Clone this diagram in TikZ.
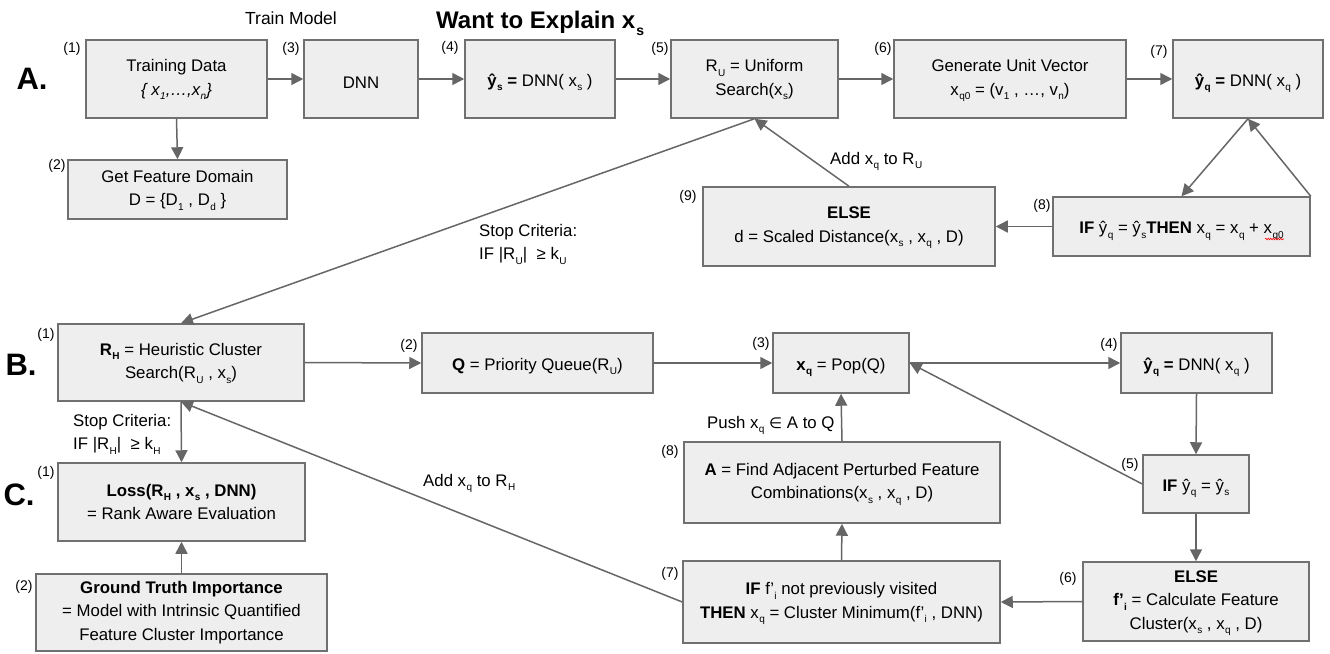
\documentclass[tikz,border=0pt]{standalone}
\usepackage{fontspec}
\setmainfont{Liberation Sans}
\newfontfamily\djv{DejaVu Sans}
\usetikzlibrary{arrows.meta,decorations.pathmorphing}
\definecolor{lgray}{HTML}{666666}
\definecolor{bgray}{HTML}{707070}
\definecolor{bfill}{HTML}{EEEEEE}
\newcommand{\sbx}[1]{\kern0.4pt\raisebox{-4.5pt}[0pt][0pt]{\fontsize{10}{10}\selectfont #1}}
\newcommand{\txtsize}{\fontsize{16.8}{23.5}\selectfont}
\begin{document}
\begin{tikzpicture}[x=1pt,y=-1pt,
  box/.style={draw=bgray, fill=bfill, line width=1.5pt, inner sep=0pt, align=center, font=\txtsize,
    execute at begin node={\rule{0pt}{18pt}}},
  num/.style={font=\fontsize{14}{14}\selectfont, inner sep=0pt},
  lbl/.style={font=\txtsize, inner sep=0pt, align=left, anchor=north west},
  big/.style={font=\fontsize{31}{31}\selectfont\bfseries, inner sep=0pt},
  arr/.style={draw=lgray, line width=1.5pt, -{Triangle[length=12pt,width=12pt]}},
  ln/.style={draw=lgray, line width=1.5pt}
]
\useasboundingbox (0,0) rectangle (1330,653);

% ---- titles ----
\node[font=\fontsize{17.5}{17.5}\selectfont, inner sep=0pt, anchor=base] (trainlbl) at (291,24) {Train Model};
\node[font=\fontsize{24}{24}\selectfont\bfseries, inner sep=0pt, anchor=base west] (explainlbl) at (436,28)
  {Want to Explain x\kern1pt\raisebox{-7pt}{\fontsize{14}{14}\selectfont s}};

\node[big] (LA) at (32,79) {A.};
\node[big] (LB) at (21,365) {B.};
\node[big] (LC) at (19,495) {C.};

% ---- row A ----
\node[box, minimum width=181pt, minimum height=78pt] (A1) at (176.5,79)
  {Training Data\\ \textit{\{ x\sbx{1},…,x\sbx{n}\}}};
\node[box, minimum width=114pt, minimum height=78pt] (A3) at (361,79) {DNN};
\node[box, minimum width=150pt, minimum height=78pt] (A4) at (540,79)
  {\textbf{ŷ\sbx{s} =} DNN( x\sbx{s} )};
\node[box, minimum width=167pt, minimum height=78pt] (A5) at (754.5,79)
  {R\sbx{U} = Uniform\\ Search(x\sbx{s})};
\node[box, minimum width=232pt, minimum height=78pt] (A6) at (1010,79)
  {Generate Unit Vector\\ x\sbx{q0} = (v\sbx{1} , …, v\sbx{n})};
\node[box, minimum width=150pt, minimum height=78pt] (A7) at (1248,79)
  {\textbf{ŷ\sbx{q} =} DNN( x\sbx{q} )};
\node[box, minimum width=219pt, minimum height=59pt] (A2) at (177.5,189.5)
  {Get Feature Domain\\ D = \{D\sbx{1} , D\sbx{d} \}};
\node[box, minimum width=257pt, minimum height=59pt] (A8) at (1181.5,226.5)
  {\textbf{IF} ŷ\sbx{q} = ŷ\sbx{s}\textbf{THEN} x\sbx{q} = x\sbx{q} + x\sbx{q0}};
\node[box, minimum width=292pt, minimum height=79pt] (A9) at (849,226.5)
  {\textbf{ELSE}\\ d = Scaled Distance(x\sbx{s} , x\sbx{q} , D)};

\node[num] (nA1) at (72,49) {(1)};
\node[num] (nA2) at (57,166) {(2)};
\node[num] (nA3) at (291,49) {(3)};
\node[num] (nA4) at (450,48) {(4)};
\node[num] (nA5) at (660,49) {(5)};
\node[num] (nA6) at (883,49) {(6)};
\node[num] (nA7) at (1159,52) {(7)};
\node[num] (nA8) at (1042,206) {(8)};
\node[num] (nA9) at (688,197) {(9)};

\draw[arr] (A1.east) -- (A3.west);
\draw[arr] (A1.south) -- (A2.north);
\draw[arr] (A3.east) -- (A4.west);
\draw[arr] (A4.east) -- (A5.west);
\draw[arr] (A5.east) -- (A6.west);
\draw[arr] (A6.east) -- (A7.west);
\draw[arr] (A7.south) -- (A8.north);
\draw[arr] (A8.north east) -- (A7.south);
\draw[arr] (A8.west) -- (A9.east);
\draw[arr] (A9.north) -- (A5.south);

\draw[red, line width=0.6pt, decorate, decoration={snake, amplitude=0.8pt, segment length=2.5pt}] (1265,239) -- (1284,239);

\node[lbl] (addU) at (830,152) {Add x\sbx{q} to R\sbx{U}};
\node[lbl] (stopU) at (479,224) {Stop Criteria:\\ IF |R\sbx{U}|\ \ ≥ k\sbx{U}};

% ---- row B ----
\node[box, minimum width=246pt, minimum height=77pt] (B1) at (181,362.5)
  {\textbf{R\sbx{H}} = Heuristic Cluster\\ Search(R\sbx{U} , x\sbx{s})};
\node[box, minimum width=231pt, minimum height=60pt] (B2) at (537.5,363)
  {\textbf{Q} = Priority Queue(R\sbx{U})};
\node[box, minimum width=136pt, minimum height=60pt] (B3) at (841,363)
  {\textbf{x\sbx{q}} = Pop(Q)};
\node[box, minimum width=151pt, minimum height=60pt] (B4) at (1196.5,363)
  {\textbf{ŷ\sbx{q} =} DNN( x\sbx{q} )};
\node[box, minimum width=106pt, minimum height=58pt] (B5) at (1196,484)
  {\textbf{IF} ŷ\sbx{q} = ŷ\sbx{s}};
\node[box, minimum width=226pt, minimum height=79pt] (B6) at (1196,601.5)
  {\textbf{ELSE}\\ \textbf{f’\sbx{i}} = Calculate Feature\\ Cluster(x\sbx{s} , x\sbx{q} , D)};
\node[box, minimum width=317pt, minimum height=82pt] (B7) at (841.5,602)
  {\textbf{IF} f’\sbx{i} not previously visited\\ \textbf{THEN} x\sbx{q} = Cluster Minimum(f’\sbx{i} , DNN)};
\node[box, minimum width=316pt, minimum height=81pt] (B8) at (842,482.5)
  {\textbf{A} = Find Adjacent Perturbed Feature\\ Combinations(x\sbx{s} , x\sbx{q} , D)};

\node[num] (nB1) at (46,335) {(1)};
\node[num] (nB2) at (409,346) {(2)};
\node[num] (nB3) at (761,344) {(3)};
\node[num] (nB4) at (1109,345) {(4)};
\node[num] (nB5) at (1130,465) {(5)};
\node[num] (nB6) at (1068,579) {(6)};
\node[num] (nB7) at (670,574) {(7)};
\node[num] (nB8) at (670,452) {(8)};

\draw[arr] (A5.south) -- (B1.north);
\draw[arr] (B1.east) -- (B2.west);
\draw[arr] (B2.east) -- (B3.west);
\draw[arr] (B3.east) -- (B4.west);
\draw[arr] (B4.south) -- (B5.north);
\draw[arr] (B5.west) -- (B3.east);
\draw[arr] (B5.south) -- (B6.north);
\draw[arr] (B6.west) -- (B7.east);
\draw[arr] (B7.north) -- (B8.south);
\draw[arr] (B8.north) -- (B3.south);
\draw[arr] (B7.west) -- (B1.south);

\node[lbl] (pushA) at (707,416) {Push x\sbx{q} {\djv\fontsize{15}{15}\selectfont ∈} A to Q};
\node[lbl] (addH) at (423,474) {Add x\sbx{q} to R\sbx{H}};
\node[lbl] (stopH) at (73,414) {Stop Criteria:\\ IF |R\sbx{H}|\ \ ≥ k\sbx{H}};

% ---- row C ----
\node[box, minimum width=247pt, minimum height=78pt] (C1) at (181.5,502)
  {\textbf{Loss(R\sbx{H} , x\sbx{s} , DNN)}\\ = Rank Aware Evaluation};
\node[box, minimum width=291pt, minimum height=77pt] (C2) at (181.5,612.5)
  {\textbf{Ground Truth Importance}\\ = Model with Intrinsic Quantified\\ Feature Cluster Importance};

\node[num] (nC1) at (46,473) {(1)};
\node[num] (nC2) at (24,587) {(2)};

\draw[arr] (B1.south) -- (C1.north);
\draw[arr] (C2.north) -- (C1.south);
\end{tikzpicture}
\end{document}
